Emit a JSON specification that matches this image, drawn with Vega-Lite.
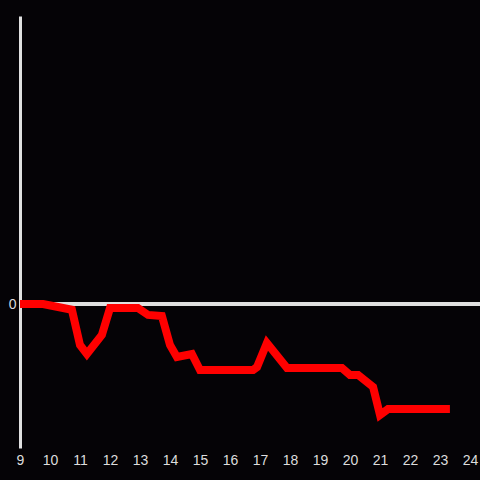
{
  "$schema": "https://vega.github.io/schema/vega-lite/v6.json",
  "autosize": "none",
  "width": 460,
  "height": 432,
  "padding": {"left": 20, "top": 16, "right": 0, "bottom": 32},
  "background": "#050306",
  "config": {"view": {"stroke": null}},
  "data": {"values": [
    {"hour": 9.0, "value": 0},
    {"hour": 9.77, "value": 0},
    {"hour": 10.73, "value": -0.04},
    {"hour": 11.0, "value": -0.285},
    {"hour": 11.23, "value": -0.347},
    {"hour": 11.73, "value": -0.215},
    {"hour": 12.0, "value": -0.028},
    {"hour": 12.93, "value": -0.028},
    {"hour": 13.27, "value": -0.076},
    {"hour": 13.73, "value": -0.083},
    {"hour": 14.0, "value": -0.285},
    {"hour": 14.23, "value": -0.368},
    {"hour": 14.73, "value": -0.347},
    {"hour": 15.0, "value": -0.458},
    {"hour": 16.77, "value": -0.458},
    {"hour": 16.9, "value": -0.438},
    {"hour": 17.23, "value": -0.271},
    {"hour": 17.9, "value": -0.444},
    {"hour": 19.73, "value": -0.444},
    {"hour": 20.0, "value": -0.493},
    {"hour": 20.27, "value": -0.493},
    {"hour": 20.77, "value": -0.576},
    {"hour": 21.0, "value": -0.771},
    {"hour": 21.27, "value": -0.729},
    {"hour": 23.33, "value": -0.729}
  ]},
  "layer": [
    {
      "mark": {"type": "rule", "color": "#e0e0e0", "strokeWidth": 3},
      "encoding": {"y": {"datum": 0, "type": "quantitative", "scale": {"domain": [-1, 2]}}}
    },
    {
      "mark": {"type": "line", "color": "#ff0000", "strokeWidth": 8, "strokeJoin": "miter"},
      "encoding": {
        "x": {
          "field": "hour", "type": "quantitative",
          "scale": {"domain": [9, 24.333], "nice": false, "zero": false},
          "axis": {"values": [9,10,11,12,13,14,15,16,17,18,19,20,21,22,23,24], "format": "d", "title": null, "domain": false, "ticks": false, "grid": false, "labelColor": "#dddddd", "labelFontSize": 14, "labelFont": "Liberation Sans", "labelPadding": 5, "labelFlush": false, "labelOverlap": false}
        },
        "y": {
          "field": "value", "type": "quantitative",
          "scale": {"domain": [-1, 2], "nice": false, "zero": false},
          "axis": {"values": [0], "format": "d", "title": null, "domain": true, "domainColor": "#e0e0e0", "domainWidth": 3, "ticks": false, "grid": false, "labelColor": "#dddddd", "labelFontSize": 14, "labelFont": "Liberation Sans", "labelPadding": 4}
        }
      }
    }
  ]
}
